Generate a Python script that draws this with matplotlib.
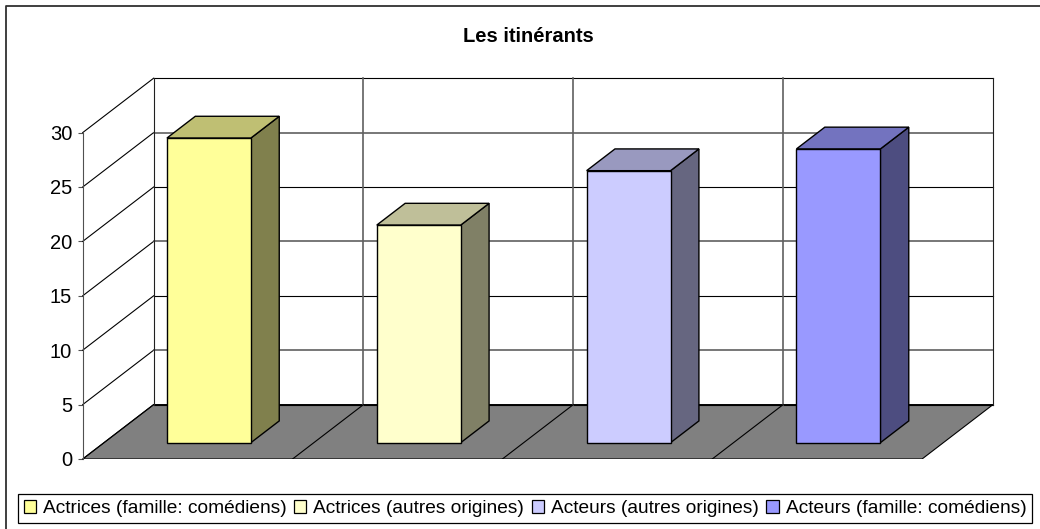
"""
Les itinerants: Excel style 3D column chart, drawn as an oblique projection on a normal axes
"""
import matplotlib
matplotlib.use("Agg")
import matplotlib.pyplot as plt
from matplotlib.lines import Line2D
from matplotlib.patches import Patch, Polygon

plt.rcParams["font.family"] = ["Liberation Sans", "DejaVu Sans"]

labels = ["Actrices (famille: comédiens)", "Actrices (autres origines)",
          "Acteurs (autres origines)", "Acteurs (famille: comédiens)"]
values = [28, 20, 25, 27]
y_ticks = [0, 5, 10, 15, 20, 25, 30]

front_colors = ["#FFFF99", "#FFFFCC", "#CCCCFF", "#9999FF"]
top_colors = ["#BFBF73", "#BFBF99", "#9999BF", "#7373BF"]
side_colors = ["#80804D", "#808066", "#666680", "#4D4D80"]

W, H = 1040, 529
# depth of the box in data units
dx_depth = 71 / 210
dy_depth = 5


def project(x, y, d):
    # d is the depth from 0 (front) to 1 (back wall)
    return (x + d * dx_depth, y + d * dy_depth)


fig = plt.figure(figsize=(W / 100, H / 100), dpi=100)

# the outer frame is cut off on the right and at the bottom
fig.add_artist(Line2D([6 / W, 6 / W, 1], [0, 1 - 5.5 / H, 1 - 5.5 / H], transform=fig.transFigure,
                      color="#303030", linewidth=1.3))

left, right, top, bottom = 82.7, 993, 78.2, 459
ax = fig.add_axes([left / W, 1 - bottom / H, (right - left) / W, (bottom - top) / H])
ax.set_xlim(0, 4 + dx_depth)
ax.set_ylim(0, 30 + dy_depth)
ax.patch.set_visible(False)

for s in ["top", "right", "bottom"]:
    ax.spines[s].set_visible(False)
ax.spines["left"].set_bounds(0, 30)
ax.spines["left"].set_color("#505050")
ax.set_xticks([])
ax.set_yticks(y_ticks)
ax.tick_params(axis="y", length=3.6, width=0.8, labelsize=14.5, pad=4, color="#505050")

# floor
floor = [project(0, 0, 0), project(4, 0, 0), project(4, 0, 1), project(0, 0, 1)]
ax.add_patch(Polygon(floor, closed=True, facecolor="#808080", edgecolor="black", linewidth=0.8, zorder=1))

# walls and gridlines, every other one looks heavier and greyer in the original
for t in y_ticks:
    ax.plot(*zip(project(0, t, 0), project(0, t, 1)), color="black", linewidth=0.8, zorder=2, clip_on=False)
    heavy = t % 10 == 5
    ax.plot(*zip(project(0, t, 1), project(4, t, 1)), color="#606060" if heavy else "black",
            linewidth=1.2 if heavy else 0.8, zorder=2, clip_on=False)
for i in range(5):
    inner = 0 < i < 4
    ax.plot(*zip(project(i, 0, 1), project(i, 30, 1)), color="#606060" if inner else "#202020",
            linewidth=1.2 if inner else 0.8, zorder=2, clip_on=False)
for i in range(1, 4):
    ax.plot(*zip(project(i, 0, 0), project(i, 0, 1)), color="black", linewidth=0.8, zorder=2)

# bars
for i, v in enumerate(values):
    x0, x1 = i + 0.3, i + 0.7
    d0, d1 = 0.3, 0.7
    front = [project(x0, 0, d0), project(x1, 0, d0), project(x1, v, d0), project(x0, v, d0)]
    side = [project(x1, 0, d0), project(x1, 0, d1), project(x1, v, d1), project(x1, v, d0)]
    roof = [project(x0, v, d0), project(x1, v, d0), project(x1, v, d1), project(x0, v, d1)]
    ax.add_patch(Polygon(side, closed=True, facecolor=side_colors[i], edgecolor="black", linewidth=1, zorder=3))
    ax.add_patch(Polygon(roof, closed=True, facecolor=top_colors[i], edgecolor="black", linewidth=1, zorder=3))
    ax.add_patch(Polygon(front, closed=True, facecolor=front_colors[i], edgecolor="black", linewidth=1, zorder=4))

fig.text(528.5 / W, 1 - 36.5 / H, "Les itinérants", ha="center", va="center", fontsize=14.5, fontweight="bold")

handles = [Patch(facecolor=c, edgecolor="black", linewidth=0.9) for c in front_colors]
leg = fig.legend(handles, labels, ncol=4, loc="center", bbox_to_anchor=(525 / W, 1 - 508.3 / H),
                 fontsize=13.75, frameon=True, fancybox=False, edgecolor="black", framealpha=1,
                 handlelength=0.65, handleheight=0.65, handletextpad=0.37, columnspacing=0.38,
                 borderpad=0.31, borderaxespad=0)
leg.get_frame().set_linewidth(0.9)

fig.savefig("out.png", dpi=100)
